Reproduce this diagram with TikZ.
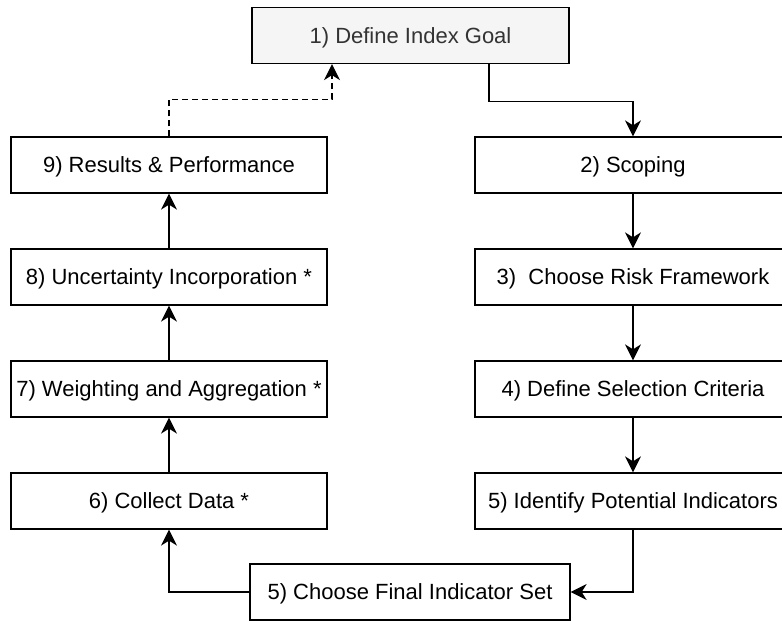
\documentclass[tikz,border=0pt]{standalone}
\usepackage{fontspec}
\setmainfont{Liberation Sans}
\usepackage{tikz}
\usetikzlibrary{arrows.meta,positioning}
\definecolor{goalfill}{HTML}{F5F5F5}
\definecolor{goaltext}{HTML}{333333}

\begin{document}
\begin{tikzpicture}[x=1pt,y=-1pt,node distance=112pt,on grid,line width=1.3pt,
  box/.style={draw,line width=1.3pt,fill=white,inner sep=0pt,minimum width=316pt,minimum height=56pt,
    text height=15.75pt,text depth=0pt,font=\fontsize{22}{26}\selectfont},
  arr/.style={-{Stealth[length=16pt,width=16pt,inset=5pt]}}]
\useasboundingbox (0,0) rectangle (782,621);
\node[box,fill=goalfill,text=goaltext,minimum width=317pt] (G) at (410.5,35.5) {1) Define Index Goal};
\node[box] (R) at (169,165) {9) Results \& Performance};
\node[box] (U) [below=of R] {8) Uncertainty Incorporation *};
\node[box] (W) [below=of U] {7) Weighting and Aggregation *};
\node[box] (C) [below=of W] {6) Collect Data *};
\node[box] (S) at (633,165) {2) Scoping};
\node[box] (F) [below=of S] {3)\ \ Choose Risk Framework};
\node[box] (D) [below=of F] {4) Define Selection Criteria};
\node[box] (P) [below=of D] {5) Identify Potential Indicators};
\node[box,minimum width=320pt] (I) at (410,592) {5) Choose Final Indicator Set};
\draw[arr] ([xshift=78.5pt]G.south) -- ++(0,37) -| (S.north);
\draw[arr,dash pattern=on 6pt off 4pt] (R.north) -- ++(0,-37) -| ([xshift=-78.5pt]G.south);
\path[arr]
(S) edge (F)
(F) edge (D)
(D) edge (P)
(C) edge (W)
(W) edge (U)
(U) edge (R);
\draw[arr] (P.south) |- (I.east);
\draw[arr] (I.west) -| (C.south);
\end{tikzpicture}
\end{document}
